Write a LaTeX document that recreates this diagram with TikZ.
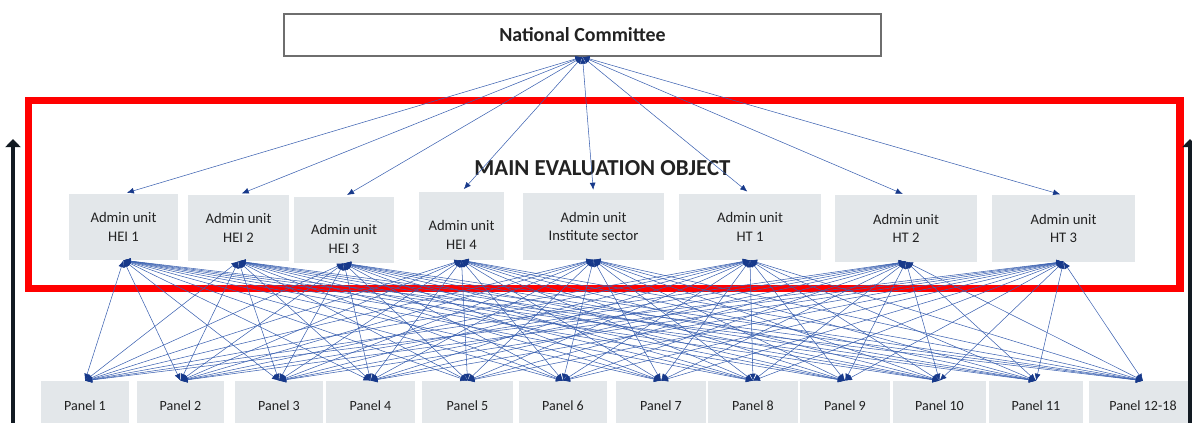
\documentclass[tikz,border=0pt]{standalone}
\usepackage{fontspec}
\setmainfont{Carlito}
\usetikzlibrary{arrows.meta, positioning}
\definecolor{unitgray}{HTML}{E3E7EA}
\definecolor{linkblue}{HTML}{3A60B0}
\definecolor{tipblue}{HTML}{17398A}
\definecolor{framered}{HTML}{FF0000}
\definecolor{axisblack}{HTML}{121A22}
\definecolor{boxgray}{HTML}{6E6E6E}
\definecolor{txtgray}{HTML}{222222}

\begin{document}
\begin{tikzpicture}[x=0.03cm, y=-0.03cm,
  unit/.style={fill=unitgray, minimum height=1.98cm, align=center, text=txtgray,
    font=\fontsize{12.5}{16}\selectfont},
  panel/.style={fill=unitgray, minimum height=1.47cm, text=txtgray,
    font=\fontsize{12}{14}\selectfont},
  link/.style={draw=linkblue, line width=0.45pt,
    {Latex[length=6pt,width=5pt,color=tipblue]}-{Latex[length=6pt,width=5pt,color=tipblue]}},
  axis/.style={draw=axisblack, line width=3.4pt, -{Triangle[length=7pt,width=13pt]}}]

  \useasboundingbox (0,0) rectangle (1192,423);

  % top box
  \node[draw=boxgray, line width=1.2pt, minimum width=17.9cm, minimum height=1.27cm,
    font=\bfseries\fontsize{17}{20}\selectfont, text=txtgray] (nc) at (582.5,35) {National Committee};

  % admin units
  \node[unit, minimum width=3.27cm] (hei1) at (123.5,227) {Admin unit\\HEI 1};
  \node[unit, minimum width=3.03cm] (hei2) at (238.5,228) {Admin unit\\HEI 2};
  \node[unit, minimum width=3.00cm, text height=40pt] (hei3) at (344,230) {Admin unit\\HEI 3};
  \node[unit, minimum width=2.55cm, minimum height=2.04cm, text height=40pt] (hei4) at (461.5,226) {Admin unit\\HEI 4};
  \node[unit, minimum width=4.23cm] (inst) at (593.5,226.5) {Admin unit\\Institute sector};
  \node[unit, minimum width=4.26cm] (ht1) at (750,227) {Admin unit\\HT 1};
  \node[unit, minimum width=4.26cm] (ht2) at (906,228.5) {Admin unit\\HT 2};
  \node[unit, minimum width=4.29cm] (ht3) at (1063.5,228.5) {Admin unit\\HT 3};

  % panels
  \foreach \i/\x/\w/\t in {1/85/2.64/Panel 1, 2/180.5/2.61/Panel 2, 3/279/2.64/Panel 3,
      4/370.5/2.67/Panel 4, 5/467.5/2.73/Panel 5, 6/563/2.64/Panel 6,
      7/661/2.70/Panel 7, 8/753/2.70/Panel 8, 9/845/2.70/Panel 9,
      10/939.5/2.79/Panel 10, 11/1036/2.82/Panel 11, 12/1143/3.24/Panel 12-18} {
    \node[panel, minimum width=\w cm] (p\i) at (\x,405.5) {\t};
  }

  % evaluation frame and side arrows
  \draw[framered, line width=6.6pt] (28.5,100.5) rectangle (1180,288.5);
  \node[font=\bfseries\fontsize{19.5}{22}\selectfont, text=txtgray] (meo) at (602.5,168) {MAIN EVALUATION OBJECT};
  \coordinate (lfoot) at (13,430);
  \coordinate (lhead) at (13,139);
  \coordinate (rfoot) at (1190,430);
  \coordinate (rhead) at (1190,139);
  \draw[axis] (lfoot) -- (lhead);
  \draw[axis] (rfoot) -- (rhead);

  % committee to units
  \foreach \a in {hei1,hei2,hei3,hei4,inst,ht1,ht2,ht3} {
    \draw[link, shorten >=3pt] (nc.south) -- (\a.north);
  }

  % units to panels
  \foreach \a in {hei1,hei2,hei3,hei4,inst,ht1,ht2,ht3} {
    \foreach \p in {1,...,12} {
      \draw[link] (\a.south) -- (p\p.north);
    }
  }

\end{tikzpicture}
\end{document}
